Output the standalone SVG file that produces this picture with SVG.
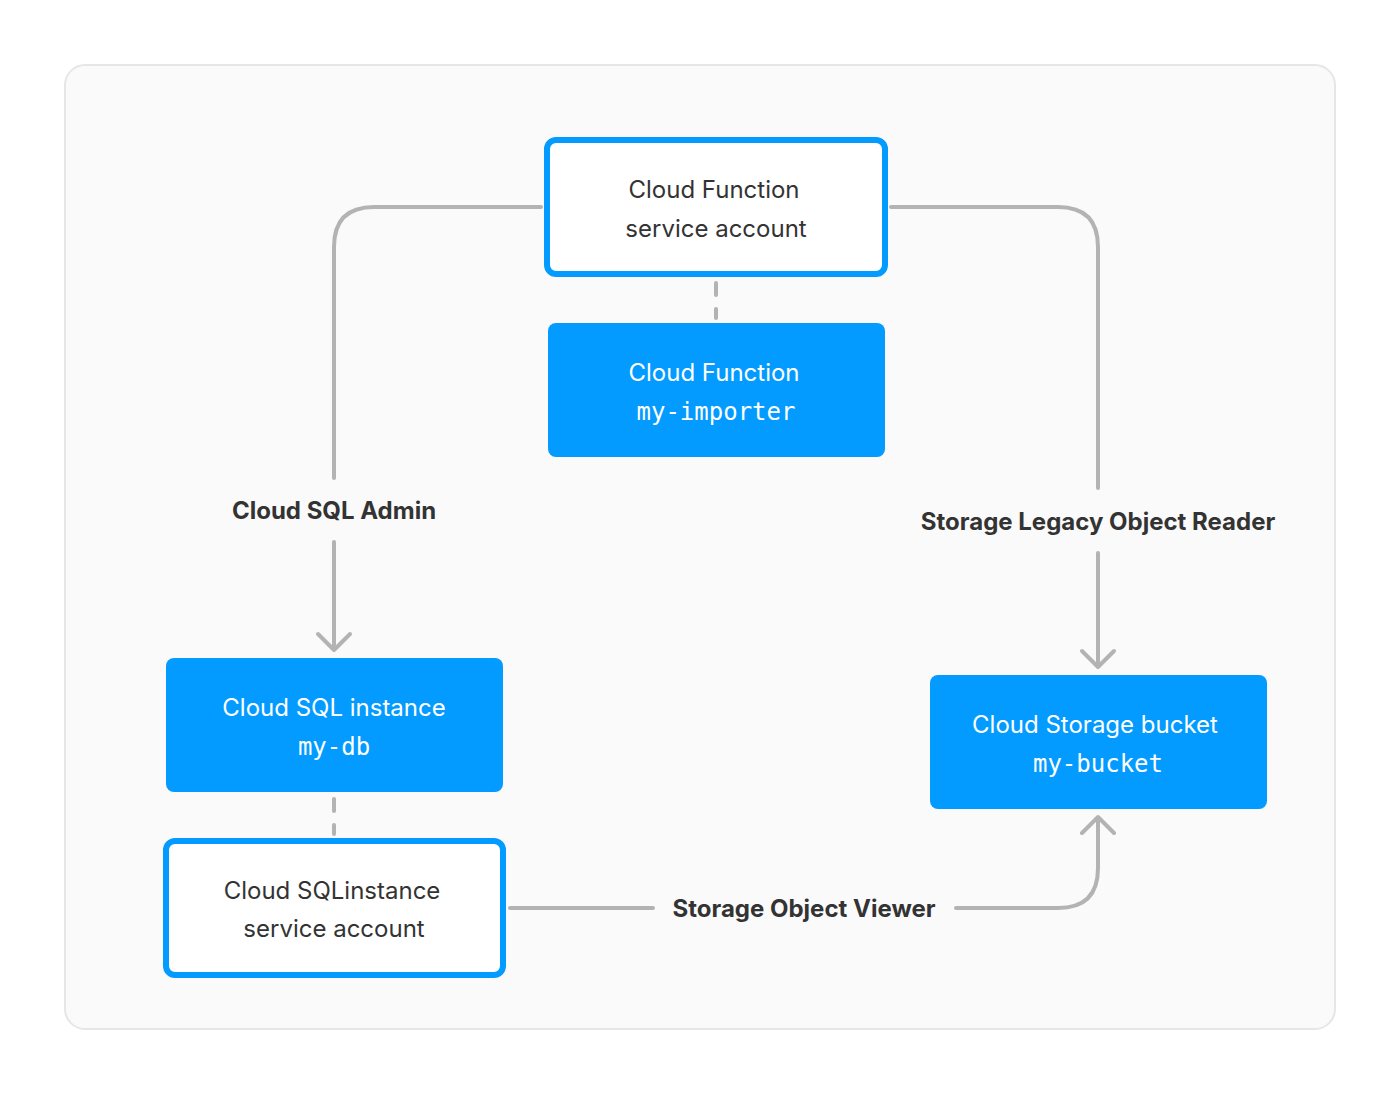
<svg xmlns="http://www.w3.org/2000/svg" width="1400" height="1094" viewBox="0 0 1400 1094">
<style>
.t{font-family:Inter,"Noto Sans",sans-serif;font-size:24px;text-anchor:middle;fill:#333}
.w{fill:#fff}
.m{font-family:"DejaVu Sans Mono","Liberation Mono",monospace;font-size:24px;text-anchor:middle;fill:#fff}
.b{font-family:Inter,"Noto Sans",sans-serif;font-size:24px;font-weight:700;text-anchor:middle;fill:#333}
.ol{fill:#fff;stroke:#039bff;stroke-width:6}
.fl{fill:#039bff}
.c{fill:none;stroke:#b3b3b3;stroke-width:4;stroke-linecap:round;stroke-linejoin:round}
.d{stroke-dasharray:12 14}
</style>
<rect x="65" y="65" width="1270" height="964" rx="20" fill="#fafafa" stroke="#e6e6e6" stroke-width="2"/>
<g id="connectors">
<path class="c d" d="M716 283V318"/>
<path class="c d" d="M334 799V834"/>
<path class="c" d="M541 207H374Q334 207 334 247V478"/>
<path class="c" d="M334 542V650M318 634L334 650L350 634"/>
<path class="c" d="M891 207H1058Q1098 207 1098 247V488"/>
<path class="c" d="M1098 553V667M1082 651L1098 667L1114 651"/>
<path class="c" d="M510 908H653"/>
<path class="c" d="M956 908H1058Q1098 908 1098 868V817M1082 833L1098 817L1114 833"/>
</g>
<g id="cf-sa"><rect class="ol" x="547" y="140" width="338" height="134" rx="9"/>
<text class="t" x="714" y="198">Cloud Function</text><text class="t" x="716" y="237">service account</text></g>
<g id="cf"><rect class="fl" x="548" y="323" width="337" height="134" rx="8"/>
<text class="t w" x="714" y="381">Cloud Function</text><text class="m" x="716" y="420">my-importer</text></g>
<g id="sql"><rect class="fl" x="166" y="658" width="337" height="134" rx="8"/>
<text class="t w" x="334" y="716">Cloud SQL instance</text><text class="m" x="334" y="755">my-db</text></g>
<g id="sql-sa"><rect class="ol" x="166" y="841" width="337" height="134" rx="9"/>
<text class="t" x="332" y="899">Cloud SQLinstance</text><text class="t" x="334" y="937">service account</text></g>
<g id="bucket"><rect class="fl" x="930" y="675" width="337" height="134" rx="8"/>
<text class="t w" x="1095" y="733">Cloud Storage bucket</text><text class="m" x="1098" y="772">my-bucket</text></g>
<g id="labels">
<text class="b" x="334" y="519">Cloud SQL Admin</text>
<text class="b" x="1098" y="530">Storage Legacy Object Reader</text>
<text class="b" x="804" y="917">Storage Object Viewer</text>
</g>
</svg>
